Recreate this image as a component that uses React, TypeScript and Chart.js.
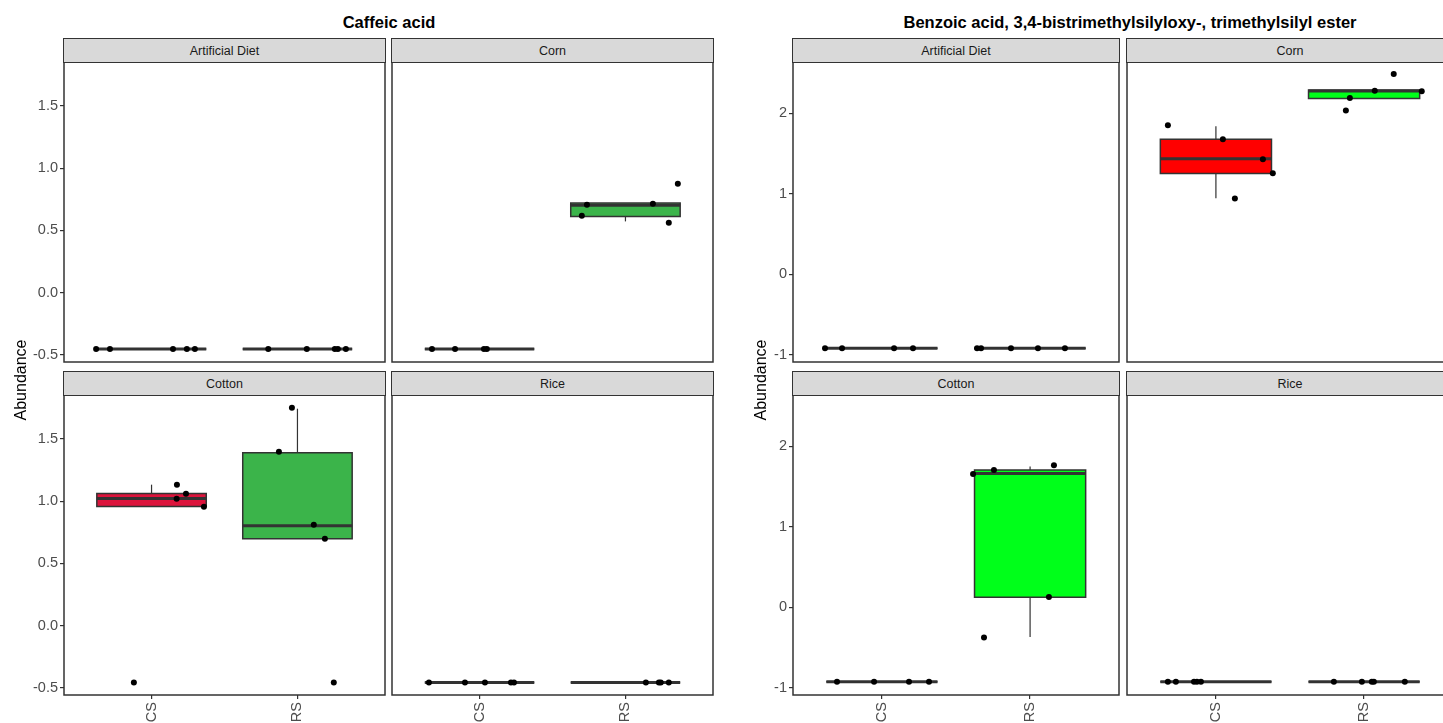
import React, { useEffect, useRef } from "react";
import { Chart, registerables } from "chart.js";

Chart.register(...registerables);

// ---------- shared categories ----------
const FACETS = ["Artificial Diet", "Corn", "Cotton", "Rice"];
const GROUPS = ["CS", "RS"];

// ---------- Caffeic acid ----------
const caffeicTitle = "Caffeic acid";
const caffeicTicks = [-0.5, 0, 0.5, 1, 1.5];
const caffeicTickLabels = ["-0.5", "0.0", "0.5", "1.0", "1.5"];
const caffeicRange = [-0.556, 1.853];
const caffeicFills = ["#DC143C", "#3BB44A"];
// box statistics per facet: [CS, RS]
const caffeicQ1 = [[-0.452, -0.452], [-0.452, 0.613], [0.958, 0.699], [-0.456, -0.456]];
const caffeicMed = [[-0.452, -0.452], [-0.452, 0.703], [1.022, 0.803], [-0.456, -0.456]];
const caffeicQ3 = [[-0.452, -0.452], [-0.452, 0.72], [1.063, 1.39], [-0.456, -0.456]];
const caffeicWLo = [[-0.452, -0.452], [-0.452, 0.573], [0.958, 0.699], [-0.456, -0.456]];
const caffeicWHi = [[-0.452, -0.452], [-0.452, 0.72], [1.133, 1.743], [-0.456, -0.456]];
// observed points per facet: [CS values, RS values]
const caffeicValues = [
  [[-0.452, -0.452, -0.452, -0.452, -0.452], [-0.452, -0.452, -0.452, -0.452, -0.452]],
  [[-0.452, -0.452, -0.452, -0.452], [0.618, 0.706, 0.714, 0.562, 0.875]],
  [[-0.456, 1.133, 1.02, 1.06, 0.956], [1.751, 1.398, 0.811, 0.699, -0.456]],
  [[-0.456, -0.456, -0.456, -0.456, -0.456], [-0.456, -0.456, -0.456, -0.456]],
];
// horizontal jitter of each point (category units)
const caffeicJitter = [
  [[-0.38, -0.285, 0.147, 0.242, 0.297], [-0.2, 0.064, 0.256, 0.277, 0.332]],
  [[-0.326, -0.168, 0.03, 0.05], [-0.299, -0.264, 0.188, 0.297, 0.359]],
  [[-0.121, 0.174, 0.172, 0.236, 0.359], [-0.038, -0.127, 0.112, 0.188, 0.249]],
  [[-0.347, -0.1, 0.037, 0.215, 0.236], [0.14, 0.229, 0.242, 0.297]],
];

// ---------- Benzoic acid ----------
const benzoicTitle = "Benzoic acid, 3,4-bistrimethylsilyloxy-, trimethylsilyl ester";
const benzoicTicks = [-1, 0, 1, 2];
const benzoicTickLabels = ["-1", "0", "1", "2"];
const benzoicRange = [-1.091, 2.637];
const benzoicFills = ["#FF0000", "#00FF1A"];
const benzoicQ1 = [[-0.92, -0.92], [1.25, 2.182], [-0.925, 0.123], [-0.925, -0.925]];
const benzoicMed = [[-0.92, -0.92], [1.436, 2.277], [-0.925, 1.66], [-0.925, -0.925]];
const benzoicQ3 = [[-0.92, -0.92], [1.676, 2.289], [-0.925, 1.705], [-0.925, -0.925]];
const benzoicWLo = [[-0.92, -0.92], [0.943, 2.182], [-0.925, -0.37], [-0.925, -0.925]];
const benzoicWHi = [[-0.92, -0.92], [1.84, 2.289], [-0.925, 1.747], [-0.925, -0.925]];
const benzoicValues = [
  [[-0.92, -0.92, -0.92, -0.92], [-0.92, -0.92, -0.92, -0.92, -0.92]],
  [[1.85, 1.676, 1.428, 1.254, 0.94], [2.488, 2.281, 2.273, 2.19, 2.033]],
  [[-0.925, -0.925, -0.925, -0.925], [1.655, 1.705, 1.763, 0.127, -0.378]],
  [[-0.925, -0.925, -0.925, -0.925, -0.925], [-0.925, -0.925, -0.925, -0.925, -0.925]],
];
const benzoicJitter = [
  [[-0.384, -0.269, 0.082, 0.21], [-0.358, -0.331, -0.129, 0.053, 0.235]],
  [[-0.324, 0.047, 0.317, 0.384, 0.128], [0.2, 0.072, 0.389, -0.096, -0.123]],
  [[-0.303, -0.053, 0.183, 0.318], [-0.385, -0.244, 0.161, 0.127, -0.311]],
  [[-0.324, -0.27, -0.148, -0.128, -0.101], [-0.204, -0.015, 0.052, 0.066, 0.275]],
];

const Y_LABEL = "Abundance";

// ---------- layout / style ----------
const FONT = '"Liberation Sans", Arial, Helvetica, sans-serif';
const PAD = 14;
const YW = 40;
const XH = 30;
const PANEL_TOPS = [62, 395];
const STRIP_TOPS = [38, 371];
const PANEL_H = 300;
const DARK = "#333333";

type Compound = {
  title: string;
  ticks: number[];
  tickLabels: string[];
  range: number[];
  fills: string[];
  q1: number[][];
  med: number[][];
  q3: number[][];
  wLo: number[][];
  wHi: number[][];
  values: number[][][];
  jitter: number[][][];
  colLefts: number[];
  panelW: number;
  titleCenter: number;
  yLabelX: number;
};

const COMPOUNDS: Compound[] = [
  {
    title: caffeicTitle,
    ticks: caffeicTicks,
    tickLabels: caffeicTickLabels,
    range: caffeicRange,
    fills: caffeicFills,
    q1: caffeicQ1,
    med: caffeicMed,
    q3: caffeicQ3,
    wLo: caffeicWLo,
    wHi: caffeicWHi,
    values: caffeicValues,
    jitter: caffeicJitter,
    colLefts: [64, 392],
    panelW: 321,
    titleCenter: 389,
    yLabelX: 21,
  },
  {
    title: benzoicTitle,
    ticks: benzoicTicks,
    tickLabels: benzoicTickLabels,
    range: benzoicRange,
    fills: benzoicFills,
    q1: benzoicQ1,
    med: benzoicMed,
    q3: benzoicQ3,
    wLo: benzoicWLo,
    wHi: benzoicWHi,
    values: benzoicValues,
    jitter: benzoicJitter,
    colLefts: [793, 1127],
    panelW: 326,
    titleCenter: 1130,
    yLabelX: 761,
  },
];

function FacetChart({ comp, f }: { comp: Compound; f: number }) {
  const ref = useRef<HTMLCanvasElement | null>(null);
  const row = Math.floor(f / 2);
  const col = f % 2;
  const showX = row === 1;
  const showY = col === 0;
  const left = comp.colLefts[col] - (showY ? YW : 0) - PAD;
  const top = PANEL_TOPS[row] - PAD;
  const width = comp.panelW + (showY ? YW : 0) + 2 * PAD;
  const height = PANEL_H + (showX ? XH : 0) + 2 * PAD;

  useEffect(() => {
    if (!ref.current) return;
    const points: { x: number; y: number }[] = [];
    for (let g = 0; g < GROUPS.length; g++) {
      const vals = comp.values[f][g];
      const jit = comp.jitter[f][g];
      for (let i = 0; i < vals.length; i++) {
        points.push({ x: g + 1 + jit[i], y: vals[i] });
      }
    }

    const boxPlugin = {
      id: "boxes",
      beforeDatasetsDraw(chart: any) {
        const { ctx } = chart;
        const x = chart.scales.x;
        const y = chart.scales.y;
        ctx.save();
        for (let g = 0; g < GROUPS.length; g++) {
          const xc = x.getPixelForValue(g + 1);
          const half = x.getPixelForValue(g + 1 + 0.375) - xc;
          const pQ1 = y.getPixelForValue(comp.q1[f][g]);
          const pQ3 = y.getPixelForValue(comp.q3[f][g]);
          const pMed = y.getPixelForValue(comp.med[f][g]);
          const pLo = y.getPixelForValue(comp.wLo[f][g]);
          const pHi = y.getPixelForValue(comp.wHi[f][g]);
          ctx.strokeStyle = DARK;
          ctx.lineWidth = 1.2;
          ctx.beginPath();
          ctx.moveTo(xc, pQ3);
          ctx.lineTo(xc, pHi);
          ctx.moveTo(xc, pQ1);
          ctx.lineTo(xc, pLo);
          ctx.stroke();
          ctx.fillStyle = comp.fills[g];
          ctx.fillRect(xc - half, pQ3, 2 * half, pQ1 - pQ3);
          ctx.lineWidth = 1.5;
          ctx.beginPath();
          ctx.rect(xc - half, pQ3, 2 * half, pQ1 - pQ3);
          ctx.stroke();
          ctx.lineWidth = 3;
          ctx.beginPath();
          ctx.moveTo(xc - half, pMed);
          ctx.lineTo(xc + half, pMed);
          ctx.stroke();
        }
        ctx.restore();
      },
    };

    const borderPlugin = {
      id: "panelBorder",
      afterDraw(chart: any) {
        const { ctx, chartArea: a } = chart;
        ctx.save();
        ctx.strokeStyle = DARK;
        ctx.lineWidth = 1.5;
        ctx.strokeRect(a.left, a.top, a.right - a.left, a.bottom - a.top);
        ctx.restore();
      },
    };

    const chart = new Chart(ref.current, {
      type: "scatter",
      data: {
        datasets: [
          {
            data: points,
            pointRadius: 3,
            pointHoverRadius: 3,
            pointBackgroundColor: "#000000",
            pointBorderColor: "#000000",
            pointBorderWidth: 0,
          },
        ],
      },
      options: {
        animation: false,
        responsive: false,
        maintainAspectRatio: false,
        devicePixelRatio: 1,
        events: [],
        layout: { padding: PAD },
        plugins: {
          legend: { display: false },
          tooltip: { enabled: false },
          title: { display: false },
        },
        scales: {
          x: {
            type: "linear",
            min: 0.4,
            max: 2.6,
            display: showX,
            afterBuildTicks: (s: any) => {
              s.ticks = GROUPS.map((_, i) => ({ value: i + 1 }));
            },
            afterFit: (s: any) => {
              if (showX) s.height = XH;
            },
            grid: {
              display: true,
              drawOnChartArea: false,
              drawTicks: true,
              tickLength: 4,
              color: DARK,
              lineWidth: 1.2,
            },
            border: { display: false },
            ticks: {
              autoSkip: false,
              maxRotation: 90,
              minRotation: 90,
              padding: 3,
              color: "#4D4D4D",
              font: { family: FONT, size: 14.5 },
              callback: (v: any) => GROUPS[Math.round(Number(v)) - 1] ?? "",
            },
          },
          y: {
            type: "linear",
            min: comp.range[0],
            max: comp.range[1],
            display: showY,
            afterBuildTicks: (s: any) => {
              s.ticks = comp.ticks.map((v) => ({ value: v }));
            },
            afterFit: (s: any) => {
              if (showY) s.width = YW;
            },
            grid: {
              display: true,
              drawOnChartArea: false,
              drawTicks: true,
              tickLength: 4,
              color: DARK,
              lineWidth: 1.2,
            },
            border: { display: false },
            ticks: {
              autoSkip: false,
              padding: 2,
              color: "#4D4D4D",
              font: { family: FONT, size: 14.5 },
              callback: (v: any) => {
                const i = comp.ticks.findIndex((t) => Math.abs(t - Number(v)) < 1e-9);
                return i >= 0 ? comp.tickLabels[i] : "";
              },
            },
          },
        },
      },
      plugins: [boxPlugin, borderPlugin],
    } as any);
    return () => chart.destroy();
  }, [comp, f]);

  return (
    <canvas
      ref={ref}
      width={width}
      height={height}
      style={{ position: "absolute", left, top, width, height }}
    />
  );
}

function Strip({ comp, f }: { comp: Compound; f: number }) {
  const row = Math.floor(f / 2);
  const col = f % 2;
  return (
    <div
      style={{
        position: "absolute",
        left: comp.colLefts[col] - 0.75,
        top: STRIP_TOPS[row],
        width: comp.panelW + 1.5,
        height: 25,
        boxSizing: "border-box",
        border: `1.5px solid ${DARK}`,
        background: "#D9D9D9",
        color: "#1A1A1A",
        fontFamily: FONT,
        fontSize: 12.5,
        display: "flex",
        alignItems: "center",
        justifyContent: "center",
        whiteSpace: "nowrap",
      }}
    >
      {FACETS[f]}
    </div>
  );
}

export default function App() {
  return (
    <div
      style={{
        position: "fixed",
        left: 0,
        top: 0,
        width: 1443,
        height: 723,
        overflow: "hidden",
        background: "#FFFFFF",
        fontFamily: FONT,
      }}
    >
      {COMPOUNDS.map((comp, ci) => (
        <React.Fragment key={ci}>
          {FACETS.map((_, f) => (
            <FacetChart key={"c" + f} comp={comp} f={f} />
          ))}
          {FACETS.map((_, f) => (
            <Strip key={"s" + f} comp={comp} f={f} />
          ))}
          <div
            style={{
              position: "absolute",
              left: comp.titleCenter - 400,
              width: 800,
              top: 12,
              textAlign: "center",
              fontWeight: "bold",
              fontSize: 16.5,
              lineHeight: "20px",
              color: "#000",
              whiteSpace: "nowrap",
            }}
          >
            {comp.title}
          </div>
          <div
            style={{
              position: "absolute",
              left: comp.yLabelX - 60,
              top: 370,
              width: 120,
              height: 20,
              lineHeight: "20px",
              textAlign: "center",
              fontSize: 16,
              color: "#000",
              transform: "rotate(-90deg)",
              whiteSpace: "nowrap",
            }}
          >
            {Y_LABEL}
          </div>
        </React.Fragment>
      ))}
    </div>
  );
}
